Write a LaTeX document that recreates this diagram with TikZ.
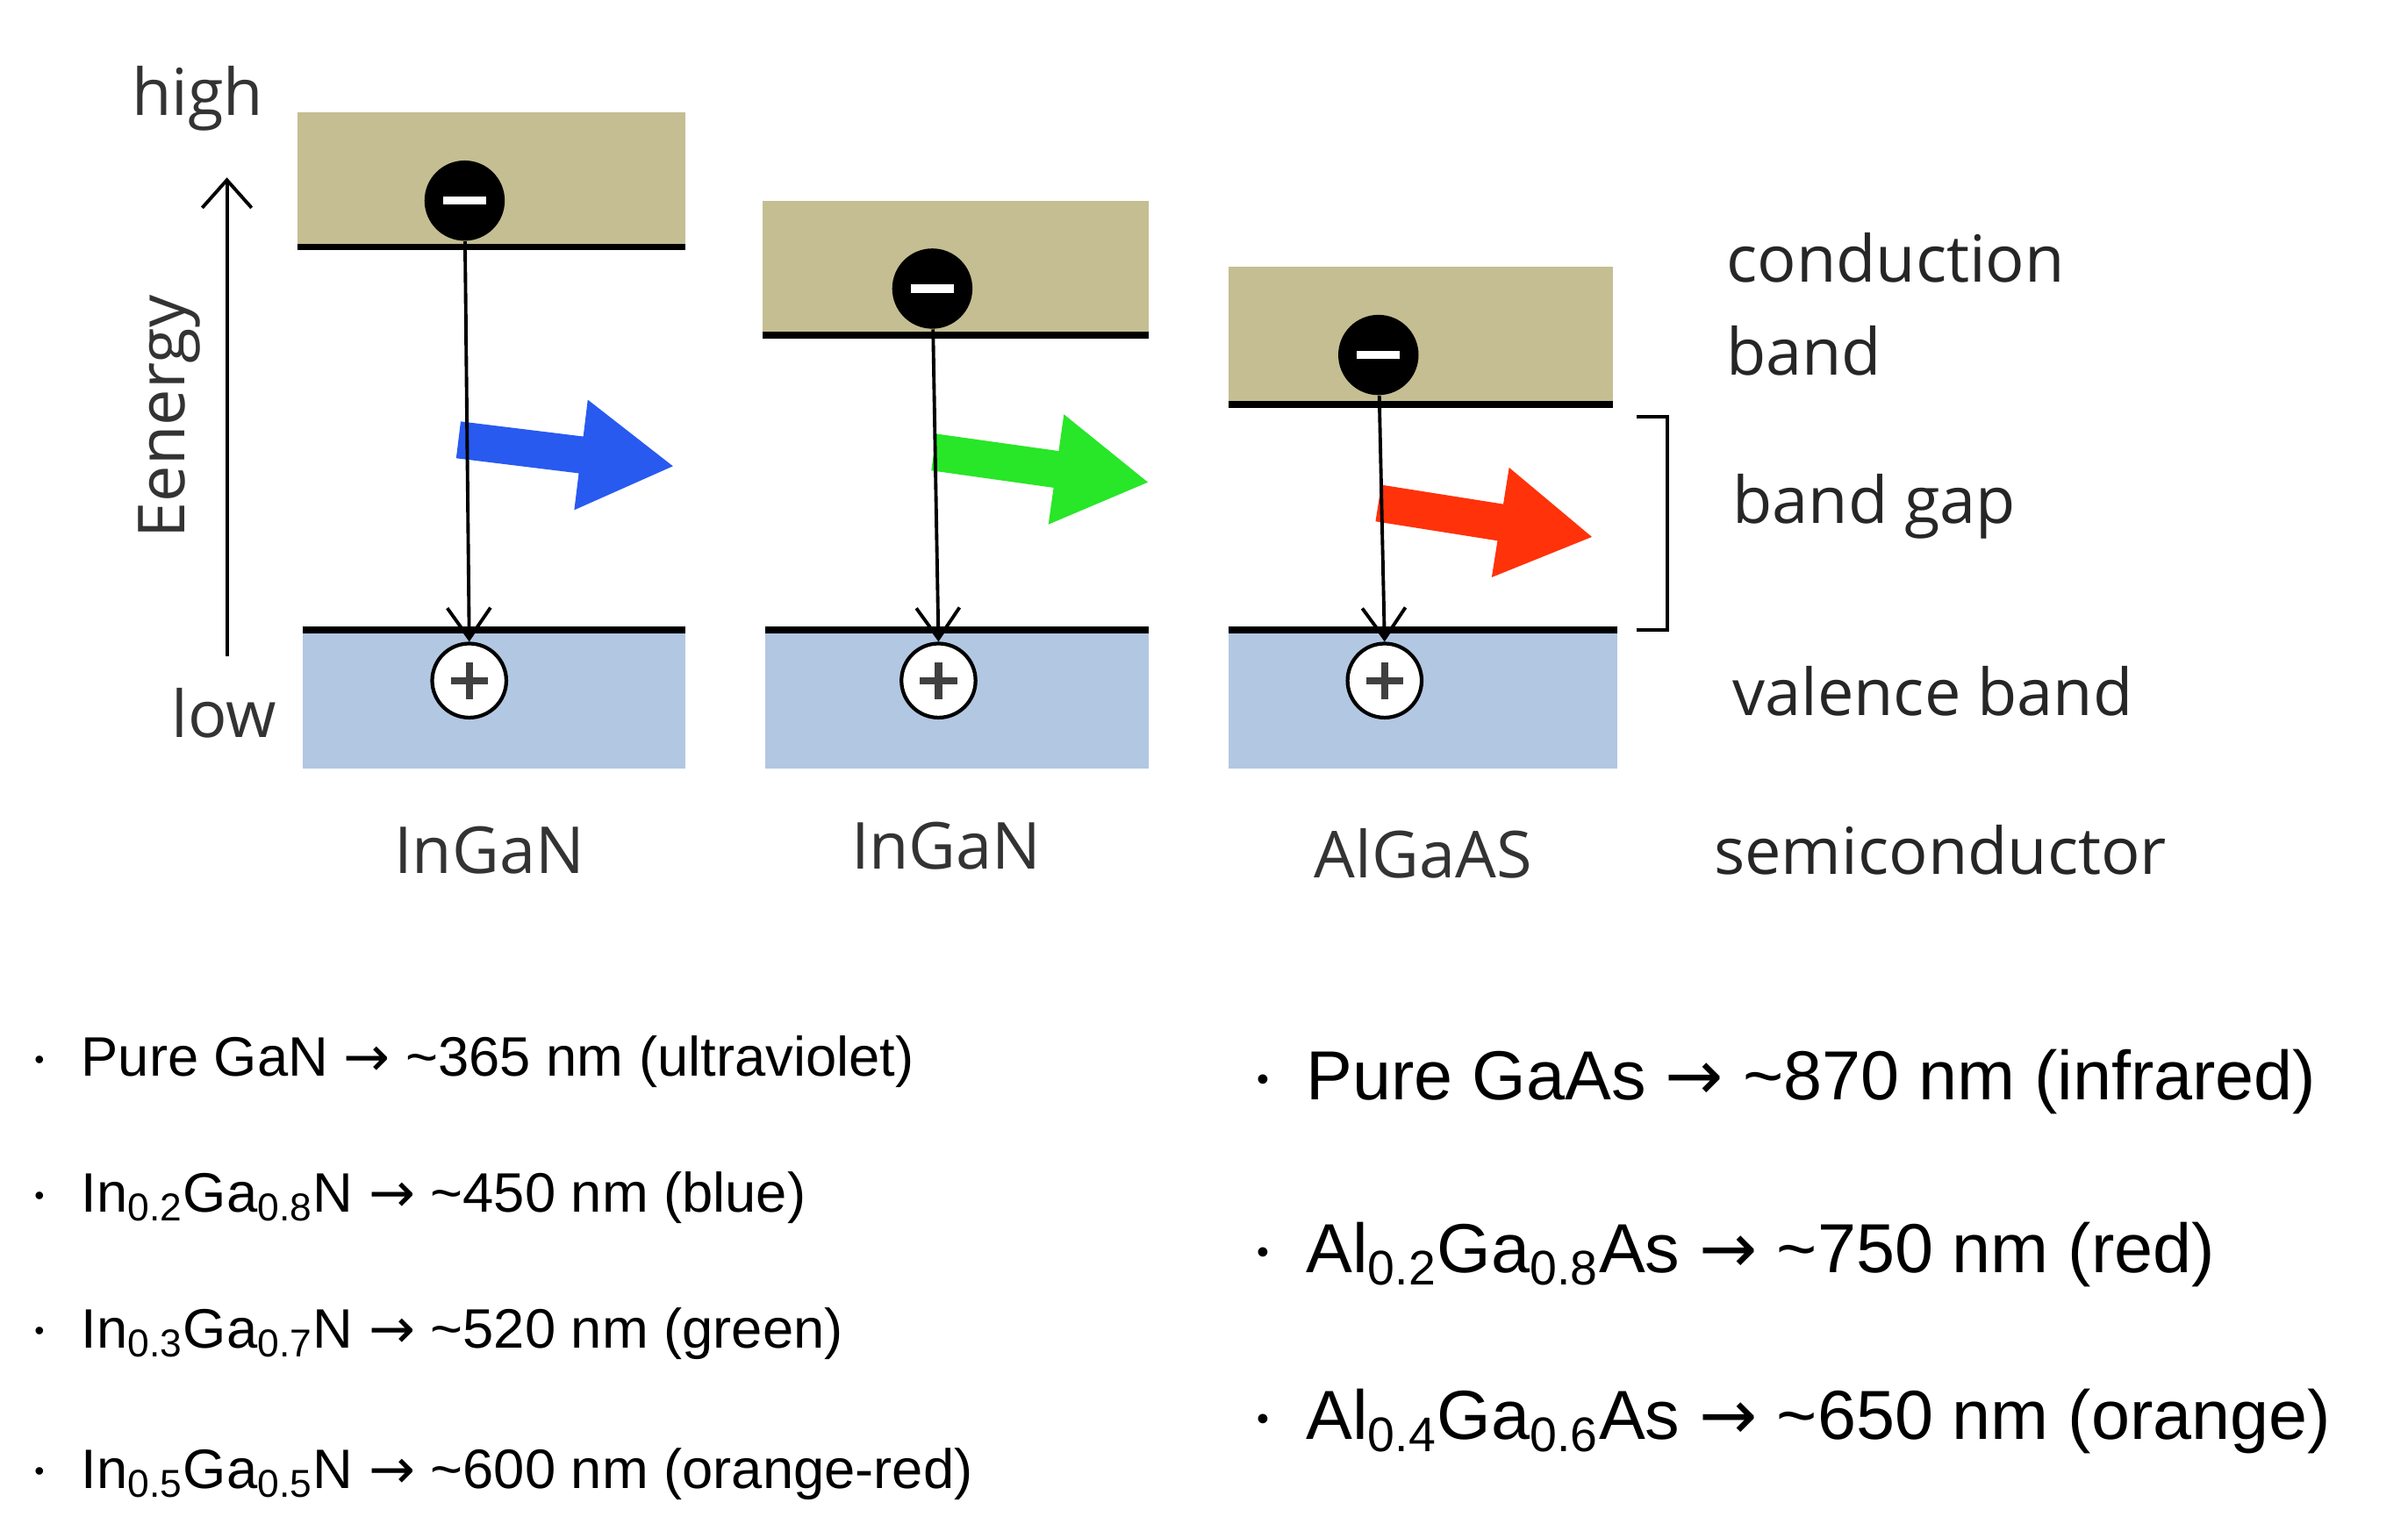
\documentclass[tikz,border=0pt]{standalone}
\usepackage{fontspec}
\setmainfont{Liberation Sans}
\newfontfamily\lblfont{Open Sans}
\newfontfamily\arrfont{DejaVu Sans}
\usetikzlibrary{arrows.meta}
\definecolor{cbcol}{RGB}{196,190,146}
\definecolor{vbcol}{RGB}{178,199,226}
\definecolor{phblue}{RGB}{40,90,240}
\definecolor{phgreen}{RGB}{40,230,40}
\definecolor{phred}{RGB}{255,50,10}
\tikzset{
  elec/.style={circle,fill=black,minimum size=26pt,inner sep=0pt},
  hole/.style={circle,draw=black,line width=1.2pt,fill=white,minimum size=24pt,inner sep=0pt},
  lbl/.style={anchor=west,inner sep=0pt,font=\lblfont\fontsize{21}{26}\selectfont,text=black!85},
  mat/.style={inner sep=0pt,font=\lblfont\fontsize{21}{26}\selectfont,text=black!80},
  item/.style={anchor=west,inner sep=0pt,font=\fontsize{18}{21}\selectfont},
  itemb/.style={anchor=west,inner sep=0pt,font=\fontsize{22.5}{26}\selectfont}
}
\newcommand{\band}[5]{% x1 x2 ytop ybottom colour
  \fill[#5] (#1,#3) rectangle (#2,#4);}
\newcommand{\photon}[4]{% x y colour angle
  \fill[#3,rotate around={#4:(#1,#2)}] (#1,#2-12) -- (#1+80,#2-12) -- (#1+80,#2-36)
    -- (#1+140,#2) -- (#1+80,#2+36) -- (#1+80,#2+12) -- (#1,#2+12) -- cycle;}
\newcommand{\bul}{\raisebox{0.25ex}{\scalebox{0.5}{\textbullet}}\hspace{12pt}}
\newcommand{\ra}{{\arrfont\symbol{"2192}}}
\begin{document}
\begin{tikzpicture}[x=0.5pt,y=-0.5pt]
\useasboundingbox (0,0) rectangle (1560,992);

% bands
\band{193}{444}{73}{160}{cbcol}
\band{494}{744}{130}{217}{cbcol}
\band{796}{1045}{173}{262}{cbcol}
\band{196}{444}{408}{498}{vbcol}
\band{496}{744}{408}{498}{vbcol}
\band{796}{1048}{408}{498}{vbcol}
\draw[line width=2.2pt] (193,160) -- (444,160) (494,217) -- (744,217) (796,262) -- (1045,262);
\draw[line width=2.2pt] (196,408) -- (444,408) (496,408) -- (744,408) (796,408) -- (1048,408);

% photons
\photon{297}{285}{phblue}{-7}
\photon{605}{293}{phgreen}{-8}
\photon{893}{326}{phred}{-9}

% carriers
\node[elec] (e1) at (301,130) {};
\node[elec] (e2) at (604,187) {};
\node[elec] (e3) at (893,230) {};
\node[hole] (h1) at (304,441) {};
\node[hole] (h2) at (608,441) {};
\node[hole] (h3) at (897,441) {};
\foreach \n in {e1,e2,e3}
  \fill[white] ([xshift=-7pt,yshift=-1.3pt]\n.center) rectangle ([xshift=7pt,yshift=1.3pt]\n.center);
\foreach \n in {h1,h2,h3}
  \draw[line width=2.4pt,black!75] ([xshift=-6pt]\n.center) -- ([xshift=6pt]\n.center)
    ([yshift=-6pt]\n.center) -- ([yshift=6pt]\n.center);
\foreach \i in {1,2,3}
  \draw[-{Straight Barb[length=10pt,width=14pt]},line width=1.1pt] (e\i) -- (h\i.north);

% energy axis
\coordinate (elow) at (147,425);
\coordinate (ehigh) at (147,115);
\draw[-{Straight Barb[length=9pt,width=16pt]},line width=1.1pt] (elow) -- (ehigh);
\node[mat,rotate=90] (energy) at (110,270) {Eenergy};
\node[mat] (high) at (128,64) {high};
\node[mat] (low) at (145,462) {low};

% band gap bracket
\draw[line width=1.2pt] (1060,270) -- (1080,270) -- (1080,408) -- (1060,408);

% labels
\node[lbl] (cb1) at (1118,167) {conduction};
\node[lbl] (cb2) at (1118,227) {band};
\node[lbl] (gap) at (1122,328) {band gap};
\node[lbl] (vb) at (1122,448) {valence band};
\node[mat] (m1) at (317,551) {InGaN};
\node[mat] (m2) at (613,548) {InGaN};
\node[mat] (m3) at (922,553) {AlGaAS};
\node[lbl] (semi) at (1110,551) {semiconductor};

% lists
\node[item] (l1) at (22,688) {\bul Pure GaN \ra{} \textasciitilde365 nm (ultraviolet)};
\node[item] (l2) at (22,776) {\bul In\textsubscript{0.2}Ga\textsubscript{0.8}N \ra{} \textasciitilde450 nm (blue)};
\node[item] (l3) at (22,864) {\bul In\textsubscript{0.3}Ga\textsubscript{0.7}N \ra{} \textasciitilde520 nm (green)};
\node[item] (l4) at (22,955) {\bul In\textsubscript{0.5}Ga\textsubscript{0.5}N \ra{} \textasciitilde600 nm (orange-red)};
\node[itemb] (r1) at (814,701) {\bul Pure GaAs \ra{} \textasciitilde870 nm (infrared)};
\node[itemb] (r2) at (814,813) {\bul Al\textsubscript{0.2}Ga\textsubscript{0.8}As \ra{} \textasciitilde750 nm (red)};
\node[itemb] (r3) at (814,921) {\bul Al\textsubscript{0.4}Ga\textsubscript{0.6}As \ra{} \textasciitilde650 nm (orange)};
\end{tikzpicture}
\end{document}
